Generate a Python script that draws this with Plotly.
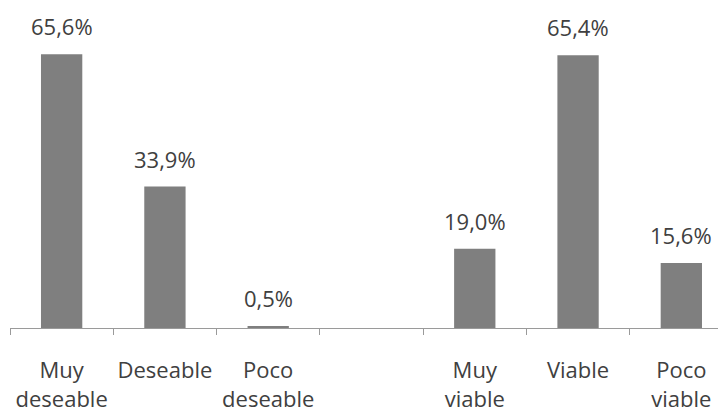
import plotly.graph_objects as go

categories = ["Muy<br>deseable", "Deseable", "Poco<br>deseable", " ", "Muy<br>viable", "Viable", "Poco<br>viable"]
values = [65.6, 33.9, 0.5, None, 19.0, 65.4, 15.6]
value_labels = ["65,6%", "33,9%", "0,5%", "", "19,0%", "65,4%", "15,6%"]

FONT = "Open Sans"
TXT = "#404040"

fig = go.Figure()
fig.add_trace(go.Bar(
    x=categories, y=values,
    marker=dict(color="#7f7f7f", line=dict(width=0)),
    hoverinfo="skip",
))

for c, v, t in zip(categories, values, value_labels):
    if v is None:
        continue
    fig.add_annotation(x=c, y=v, text=t, showarrow=False, yanchor="bottom",
                       yshift=11, font=dict(family=FONT, size=22, color=TXT))

fig.update_layout(
    width=718, height=412,
    margin=dict(l=10, r=0, t=36, b=84, autoexpand=False),
    paper_bgcolor="white", plot_bgcolor="white",
    bargap=0.6, showlegend=False,
    xaxis=dict(
        type="category", range=[-0.5, 6.355], automargin=False,
        showline=True, linecolor="#9a9a9a", linewidth=1,
        ticks="outside", tickson="boundaries", ticklen=6, tickcolor="#9a9a9a",
        showgrid=False, zeroline=False, tickangle=0,
        tickfont=dict(family=FONT, size=22, color=TXT),
        ticklabelstandoff=23,
    ),
    yaxis=dict(range=[0, 70], visible=False, showgrid=False, zeroline=False, automargin=False),
)

fig.write_html("out.html", config={"displayModeBar": False},
               post_script="document.body.style.margin='0';document.body.style.overflow='hidden';")
